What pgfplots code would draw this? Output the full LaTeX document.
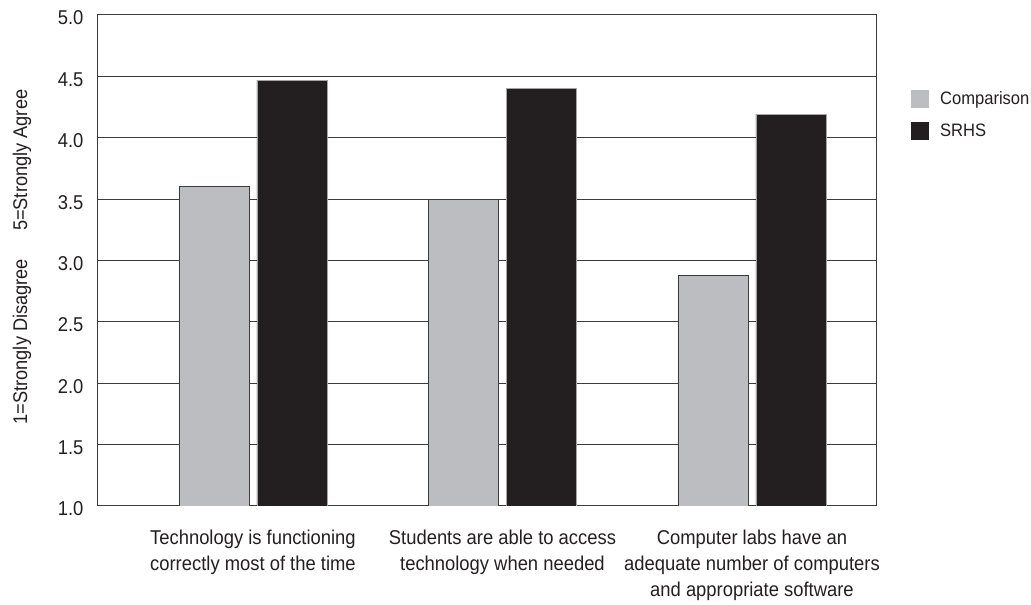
\documentclass[border=0pt]{standalone}
\usepackage{fontspec}
\setmainfont{Liberation Sans}[FakeStretch=0.92]
\usepackage{pgfplots}
\pgfplotsset{compat=1.18}
\definecolor{inkc}{RGB}{35,31,32}
\definecolor{graybar}{RGB}{188,189,192}
\definecolor{gridc}{RGB}{60,60,60}
\begin{document}
\begin{tikzpicture}
\useasboundingbox (0,0) rectangle (1031pt,605pt);
\begin{axis}[
  at={(97pt,99pt)}, anchor=south west,
  scale only axis, width=779pt, height=491pt,
  ybar, bar width=70pt,
  xmin=-0.625, xmax=2.497,
  ymin=1, ymax=5,
  ytick={1,1.5,...,5},
  xtick={0,1,2},
  xticklabels={Technology is functioning\\correctly most of the time,
               Students are able to access\\technology when needed,
               Computer labs have an\\adequate number of computers\\and appropriate software},
  xticklabel style={align=center, font=\fontsize{20pt}{26pt}\selectfont, text=inkc, yshift=-20pt},
  yticklabel style={font=\fontsize{20pt}{24pt}\selectfont, text=inkc, xshift=-10pt, yshift=-3pt,
    /pgf/number format/fixed, /pgf/number format/fixed zerofill, /pgf/number format/precision=1},
  /pgf/number format/assume math mode=true,
  major tick length=0pt,
  ymajorgrids, grid style={gridc, line width=1pt},
  axis line style={gridc, line width=1pt},
  ylabel={1=Strongly Disagree\hspace{28pt}5=Strongly Agree},
  ylabel style={at={(axis description cs:-0.0963,0.507)}, anchor=center, font=\fontsize{19.8pt}{22pt}\selectfont, text=inkc},
  legend style={at={(1.041,0.853)}, anchor=north west, draw=none, fill=none,
    font=\fontsize{18pt}{22pt}\selectfont, text=inkc, row sep=14pt},
  legend cell align=left,
  legend image code/.code={\fill[#1, draw=none] (0pt,-9pt) rectangle (18pt,9pt); \path[draw=none, fill=none] (18pt,0pt) -- (27pt,0pt);},
]
\addplot[fill=graybar, draw=gridc, line width=0.8pt, bar shift=-39pt] coordinates {(0,3.60) (1,3.50) (2,2.88)};
\addplot[fill=inkc, draw=gray!70, line width=0.8pt, bar shift=39pt] coordinates {(0,4.47) (1,4.40) (2,4.19)};
\legend{Comparison, SRHS}
\end{axis}
\end{tikzpicture}
\end{document}
